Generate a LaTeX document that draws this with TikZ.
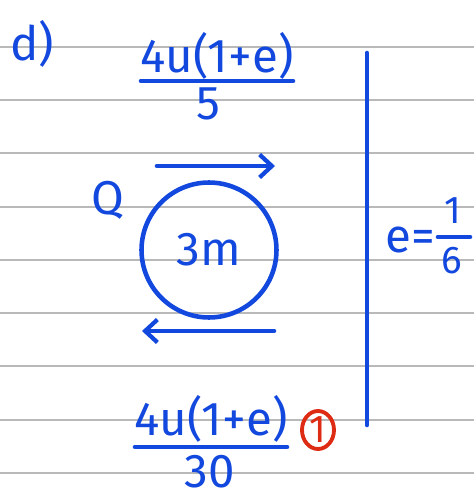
\documentclass[tikz,border=0pt]{standalone}
\usepackage{fontspec}
\setsansfont{Fira Sans}
\usetikzlibrary{arrows.meta,positioning,shapes.geometric}
\definecolor{ink}{RGB}{18,72,222}
\definecolor{mark}{RGB}{222,44,20}
\definecolor{rule}{RGB}{185,185,185}

\begin{document}
\begin{tikzpicture}[x=0.02cm,y=-0.02cm,
  every node/.style={font=\sffamily\fontsize{27}{30}\selectfont, text=ink, inner sep=0pt},
  small/.style={font=\sffamily\fontsize{22}{26}\selectfont},
  inkline/.style={draw=ink, line width=2.6pt, line cap=round},
  >={Straight Barb[length=7pt,width=13pt,line width=2.4pt]}
]
\useasboundingbox (0,0) rectangle (474,497);

% ruled paper
\foreach \y in {47,100,153,207,260,313,366,420,473}
  \draw[rule, line width=0.8pt] (0,\y) -- (474,\y);

\node (lbl) at (32,44) {d)};

% incoming speed
\node (numtop) at (217,56) {4u(1+e)};
\coordinate (bartopl) at (141,81);
\coordinate (bartopr) at (293,81);
\draw[inkline] (bartopl) -- (bartopr);
\node (dentop) at (208,104) {5};

% wall
\coordinate (walltop) at (367,53);
\coordinate (wallbot) at (367,425);
\draw[inkline] (walltop) -- (wallbot);
\node (coef) at (410,240) {e=};
\node[small] (coefnum) at (453,211) {1};
\coordinate (coefl) at (438,237);
\coordinate (coefr) at (470,237);
\draw[inkline] (coefl) -- (coefr);
\node[small] (coefden) at (452,261) {6};

% sphere Q
\node (q) at (108,200) {Q};
\node[draw=ink, line width=2.6pt, circle, minimum size=2.7cm] (ball) at (209,250) {3m};
\coordinate (rstart) at (157,166);
\coordinate (rend) at (275,166);
\draw[inkline, ->] (rstart) -- (rend);
\coordinate (lstart) at (274,331);
\coordinate (lend) at (142,331);
\draw[inkline, ->] (lstart) -- (lend);

% rebound speed
\node (numbot) at (211,419) {4u(1+e)};
\coordinate (barbotl) at (135,447);
\coordinate (barbotr) at (287,447);
\draw[inkline] (barbotl) -- (barbotr);
\node (denbot) at (210,472) {30};
\node[draw=mark, text=mark, line width=2.2pt, ellipse, minimum width=0.64cm, minimum height=0.76cm, small] (tick) at (318,430) {1};

\end{tikzpicture}
\end{document}
